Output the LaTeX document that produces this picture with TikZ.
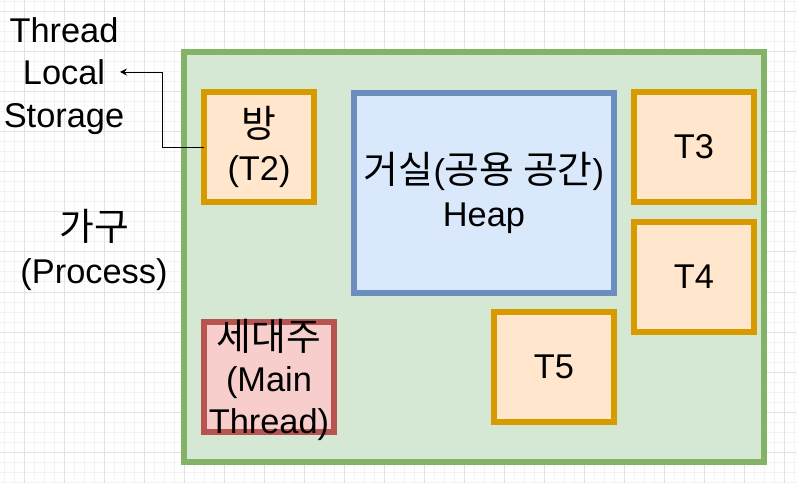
\documentclass[tikz,border=0pt]{standalone}
\usepackage{fontspec}
\setmainfont{Liberation Sans}
\newfontfamily\kr[Scale=1.1]{Noto Sans CJK KR}
\usetikzlibrary{arrows.meta}
\definecolor{gfill}{HTML}{D5E8D4}
\definecolor{gline}{HTML}{82B366}
\definecolor{ofill}{HTML}{FFE6CC}
\definecolor{oline}{HTML}{D79B00}
\definecolor{bfill}{HTML}{DAE8FC}
\definecolor{bline}{HTML}{6C8EBF}
\definecolor{rfill}{HTML}{F8CECC}
\definecolor{rline}{HTML}{B85450}
\definecolor{gridminor}{HTML}{F3F3F3}
\definecolor{gridmajor}{HTML}{E2E2E2}
\tikzset{
  box/.style={line width=6bp, inner sep=0pt, outer sep=0pt, align=center,
    font=\fontsize{34.5}{43}\selectfont},
  lbl/.style={inner sep=0pt, align=center, font=\fontsize{34.5}{43}\selectfont},
  conn/.style={draw=black, line width=0.9bp, -{Stealth[length=7bp,width=7bp,inset=2.5bp]}},
}
\begin{document}
\begin{tikzpicture}[x=1bp,y=-1bp]
\useasboundingbox (0,0) rectangle (797,483);
\fill[white] (0,0) rectangle (797,483);
% grid
\foreach \x in {4,14,...,794} \draw[gridminor, line width=1bp] (\x,0) -- (\x,483);
\foreach \y in {2,12,...,482} \draw[gridminor, line width=1bp] (0,\y) -- (797,\y);
\foreach \x in {24,64,...,784} \draw[gridmajor, line width=1bp] (\x,0) -- (\x,483);
\foreach \y in {12,52,...,452} \draw[gridmajor, line width=1bp] (0,\y) -- (797,\y);
% process
\draw[box, draw=gline, fill=gfill] (184,52) rectangle (764,462);
\node[box, draw=bline, fill=bfill, minimum width=260bp, minimum height=200bp] (heap) at (484,193) {{\kr 거실}({\kr 공용 공간})\\Heap};
\node[box, draw=oline, fill=ofill, minimum width=110bp, minimum height=110bp] (t2) at (259,147) {{\kr 방}\\(T2)};
\node[box, draw=oline, fill=ofill, minimum width=120bp, minimum height=110bp] (t3) at (694,147) {T3};
\node[box, draw=oline, fill=ofill, minimum width=120bp, minimum height=110bp] (t4) at (694,277) {T4};
\node[box, draw=oline, fill=ofill, minimum width=120bp, minimum height=110bp] (t5) at (554,367) {T5};
\node[box, draw=rline, fill=rfill, minimum width=130bp, minimum height=110bp] (main) at (269,377) {};
\node[lbl] (mainlbl) at (269,380) {{\kr 세대주}\\[-2bp](Main\\Thread)};
\node[lbl] (tls) at (64,76) {Thread\\Local\\Storage};
\node[lbl] (proc) at (94,250) {{\kr 가구}\\(Process)};
\coordinate (tlsend) at (120,72);
\draw[conn] (t2.west) -- ++(-42,0) |- (tlsend);
\end{tikzpicture}
\end{document}
